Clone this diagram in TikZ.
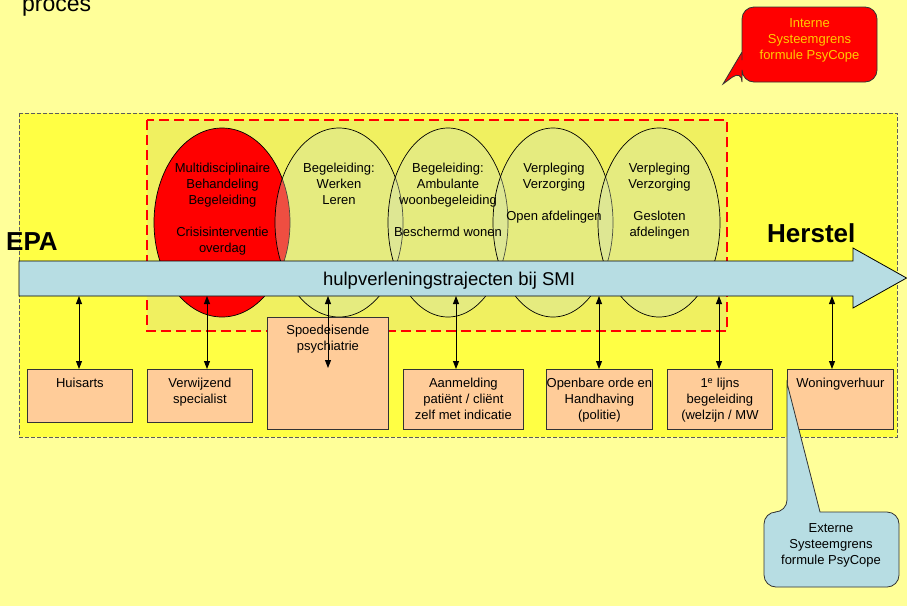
\documentclass[tikz,border=0pt]{standalone}
\usepackage{fontspec}
\setmainfont{Liberation Sans}
\usetikzlibrary{arrows.meta}
\definecolor{paper}{HTML}{FFFF99}
\definecolor{zone}{HTML}{FFFF44}
\definecolor{core}{HTML}{F0F060}
\definecolor{careell}{RGB}{211,226,187}
\definecolor{flow}{HTML}{B7DDE3}
\definecolor{peach}{HTML}{FFCC99}
\definecolor{alarm}{HTML}{FF0000}
\definecolor{gold}{HTML}{FFCC00}
\definecolor{edge}{HTML}{333333}
\begin{document}
\begin{tikzpicture}[x=1pt,y=-1pt,
  ell/.style={draw=black, line width=0.7pt},
  softell/.style={ell, fill=careell, fill opacity=0.35},
  etxt/.style={anchor=north, align=center, inner sep=0pt, font=\fontsize{13}{16}\selectfont},
  pbox/.style={draw=edge, line width=0.8pt, fill=peach, anchor=north west, inner sep=0pt},
  btxt/.style={anchor=north, align=center, inner sep=0pt, font=\fontsize{13}{16}\selectfont},
  dbl/.style={line width=0.9pt, {Triangle[length=8pt,width=6pt]}-{Triangle[length=8pt,width=6pt]}},
  bigtxt/.style={inner sep=0pt, font=\fontsize{26}{30}\selectfont\bfseries},
  calltxt/.style={align=center, inner sep=0pt, font=\fontsize{13}{16}\selectfont}
]
% page
\useasboundingbox (0,0) rectangle (907,606);
\fill[paper] (0,0) rectangle (907,606);
\node[anchor=base west, inner sep=0pt, font=\fontsize{23}{27}\selectfont] (title) at (22,11.5) {proces};

% outer zone and inner (PsyCope) zone
\draw[fill=zone, draw=edge!80, line width=0.8pt, dash pattern=on 4pt off 2pt] (19,113) rectangle (897,437);
\draw[fill=core, draw=alarm, line width=2.2pt, dash pattern=on 10pt off 5pt] (147,120) rectangle (727,331);

% care ellipses
\draw[ell, fill=alarm] (222,222.5) ellipse [x radius=68, y radius=94.5];
\draw[softell] (339,222.5) ellipse [x radius=64, y radius=94.5];
\draw[softell] (448,222.5) ellipse [x radius=60, y radius=94.5];
\draw[softell] (553,222.5) ellipse [x radius=60, y radius=94.5];
\draw[softell] (659,222.5) ellipse [x radius=61, y radius=94.5];

\node[etxt] (e1) at (222.5,161.3) {\strut Multidisciplinaire\\Behandeling\\Begeleiding\\[16pt]Crisisinterventie\\overdag};
\node[etxt] (e2) at (339,161.3) {\strut Begeleiding:\\Werken\\Leren};
\node[etxt] (e3) at (448,161.3) {\strut Begeleiding:\\Ambulante\\woonbegeleiding\\[16pt]Beschermd wonen};
\node[etxt] (e4) at (554,161.3) {\strut Verpleging\\Verzorging\\[16pt]Open afdelingen};
\node[etxt] (e5) at (659.5,161.3) {\strut Verpleging\\Verzorging\\[16pt]Gesloten\\afdelingen};

% main flow arrow
\draw[fill=flow, draw=black, line width=0.8pt]
  (19,261) -- (853,261) -- (853,248) -- (906.5,278) -- (853,308) -- (853,296) -- (19,296) -- cycle;
\node[anchor=base, inner sep=0pt, font=\fontsize{18.5}{22}\selectfont] (flowlbl) at (449,285) {hulpverleningstrajecten bij SMI};
\node[bigtxt, anchor=base west] (epa) at (6,250) {EPA};
\node[bigtxt, anchor=base west] (herstel) at (767,242) {Herstel};

% partner boxes
\node[pbox, minimum width=105, minimum height=53] (huis) at (27,369) {};
\node[pbox, minimum width=105, minimum height=53] (verw) at (147,369) {};
\node[pbox, minimum width=121, minimum height=112] (spoed) at (267,317) {};
\node[pbox, minimum width=120, minimum height=60] (aanm) at (403,369) {};
\node[pbox, minimum width=106, minimum height=60] (orde) at (546,369) {};
\node[pbox, minimum width=105, minimum height=60] (lijn) at (667,369) {};
\node[pbox, minimum width=106, minimum height=60] (woon) at (787,369) {};

\node[btxt] (huislbl) at ([yshift=-7.5pt]huis.north) {\strut Huisarts};
\node[btxt] (verwlbl) at ([yshift=-7.5pt]verw.north) {\strut Verwijzend\\specialist};
\node[btxt] (spoedlbl) at ([yshift=-6.5pt]spoed.north) {\strut Spoedeisende\\psychiatrie};
\node[btxt] (aanmlbl) at ([yshift=-7.5pt]aanm.north) {\strut Aanmelding\\patiënt / cliënt\\zelf met indicatie};
\node[btxt] (ordelbl) at ([yshift=-7.5pt]orde.north) {\strut Openbare orde en\\Handhaving\\(politie)};
\node[btxt] (lijnlbl) at ([yshift=-7.5pt]lijn.north) {\strut 1\textsuperscript{e} lijns\\begeleiding\\(welzijn / MW};
\node[btxt] (woonlbl) at ([yshift=-7.5pt]woon.north) {\strut Woningverhuur};

% links between the flow and the partners
\coordinate (a1) at (79,296);
\coordinate (a2) at (207,296);
\coordinate (a3) at (328,296);
\coordinate (a3e) at (328,368);
\coordinate (a4) at (456,296);
\coordinate (a5) at (599,296);
\coordinate (a6) at (719,296);
\coordinate (a7) at (832,296);
\draw[dbl] (a1) -- (a1 |- huis.north);
\draw[dbl] (a2) -- (a2 |- verw.north);
\draw[dbl] (a3) -- (a3e);
\draw[dbl] (a4) -- (a4 |- aanm.north);
\draw[dbl] (a5) -- (a5 |- orde.north);
\draw[dbl] (a6) -- (a6 |- lijn.north);
\draw[dbl] (a7) -- (a7 |- woon.north);

% system boundary callouts
\draw[fill=alarm, draw=black!80, line width=0.8pt]
  (742,60) [rounded corners=12pt] -- (742,7) -- (877,7) -- (877,82) -- (742,82) -- (742,70)
  [sharp corners] -- (723,84) -- (742,52) -- cycle;
\node[calltxt, text=gold] (intern) at (809.5,40) {Interne\\Systeemgrens\\formule PsyCope};

\draw[fill=flow, draw=black!80, line width=0.8pt]
  (840,512) [rounded corners=12pt] -- (899,512) -- (899,587) -- (764,587) -- (764,512) -- (787,512)
  [sharp corners] -- (787,383) -- (820,512) -- cycle;
\node[calltxt] (extern) at (831,545) {Externe\\Systeemgrens\\formule PsyCope};
\end{tikzpicture}
\end{document}
